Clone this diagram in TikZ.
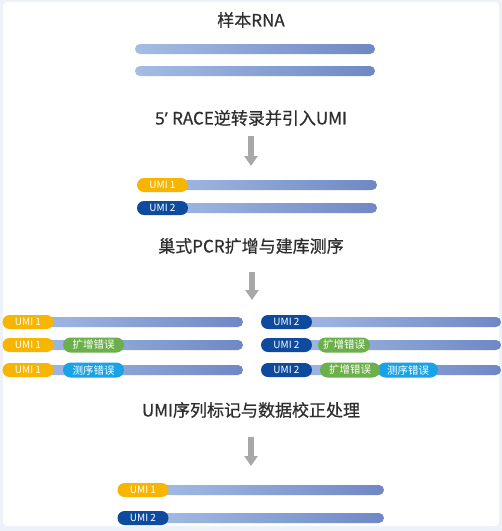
\documentclass[tikz,border=0pt]{standalone}
\usepackage{fontspec}
\setmainfont{Noto Sans CJK SC}
\newfontfamily\ttlfont{Noto Sans CJK SC}[FakeBold=0.6]
\newfontfamily\latfont{Noto Sans}[FakeBold=0.6]
\usetikzlibrary{arrows.meta}
\definecolor{frame}{HTML}{EDF1F8}
\definecolor{barL}{HTML}{A4BDE4}
\definecolor{barR}{HTML}{6F88C5}
\definecolor{umiY}{HTML}{F7B500}
\definecolor{umiB}{HTML}{0E4A9E}
\definecolor{errG}{HTML}{6BB04A}
\definecolor{errB}{HTML}{19A3E6}
\definecolor{titlec}{HTML}{2E2E2E}
\definecolor{arrowc}{HTML}{A8A8A8}
\tikzset{
  ttl/.style={text=titlec, font=\ttlfont\fontsize{17}{17}\selectfont, inner sep=0},
  umi/.style={rounded corners=7pt, minimum height=14pt, minimum width=51pt, inner sep=0, text=white, font=\fontsize{10}{10}\selectfont},
  uY/.style={umi, fill=umiY},
  uB/.style={umi, fill=umiB},
  err/.style={rounded corners=7.5pt, minimum height=15pt, minimum width=61pt, inner sep=0, text=white, font=\fontsize{10.5}{10.5}\selectfont},
  eG/.style={err, fill=errG},
  eB/.style={err, fill=errB},
  bar/.style={left color=barL, right color=barR, rounded corners=5pt},
  flow/.style={draw=arrowc, line width=6pt, -{Triangle[width=13pt,length=10pt]}}
}
\begin{document}
\begin{tikzpicture}[x=1pt,y=-1pt]
\useasboundingbox (0,0) rectangle (502,531);
\fill[frame] (0,0) rectangle (502,531);
\fill[white, rounded corners=4pt] (3,2) rectangle (499,526);

% titles
\node[ttl] (t1) at (251,20) {样本RNA};
\node[ttl] (t2) at (251,118) {{\latfont 5’ }RACE逆转录并引入UMI};
\node[ttl] (t3) at (251,246) {巢式PCR扩增与建库测序};
\node[ttl] (t4) at (251,410) {UMI序列标记与数据校正处理};

% arrows
\coordinate (a1s) at (251,136); \coordinate (a1e) at (251,166);
\coordinate (a2s) at (252,272); \coordinate (a2e) at (252,300);
\coordinate (a3s) at (251,437); \coordinate (a3e) at (251,466);
\draw[flow] (a1s) -- (a1e);
\draw[flow] (a2s) -- (a2e);
\draw[flow] (a3s) -- (a3e);

% sample RNA
\shade[bar] (135,44) rectangle (375,54);
\shade[bar] (135,66) rectangle (375,76);

% after RT
\shade[bar] (150,180) rectangle (377,190);
\shade[bar] (150,203) rectangle (377,213);
\node[uY] (r1) at (162.5,185) {UMI 1};
\node[uB] (r2) at (162.5,208) {UMI 2};

% PCR left
\shade[bar] (20,317) rectangle (243,327);
\shade[bar] (20,340) rectangle (243,350);
\shade[bar] (20,365) rectangle (243,375);
\node[uY] (l1) at (28,322) {UMI 1};
\node[uY] (l2) at (28,345) {UMI 1};
\node[uY] (l3) at (28,370) {UMI 1};
\node[eG] (lg) at (93.5,345) {扩增错误};
\node[eB] (lb) at (93.5,370) {测序错误};

% PCR right
\shade[bar] (280,317) rectangle (501,327);
\shade[bar] (280,340) rectangle (501,350);
\shade[bar] (280,365) rectangle (501,375);
\node[uB] (q1) at (286.5,322) {UMI 2};
\node[uB] (q2) at (286.5,345) {UMI 2};
\node[uB] (q3) at (286.5,370) {UMI 2};
\node[eG, minimum width=52pt] (qg) at (344,345) {扩增错误};
\node[eB, minimum width=60pt] (qb) at (408,370) {测序错误};
\node[eG, minimum width=60pt] (qg2) at (350,370) {扩增错误};

% corrected
\shade[bar] (150,485) rectangle (384,495);
\shade[bar] (150,513) rectangle (384,523);
\node[uY] (c1) at (143,490) {UMI 1};
\node[uB] (c2) at (143,518) {UMI 2};
\end{tikzpicture}
\end{document}
